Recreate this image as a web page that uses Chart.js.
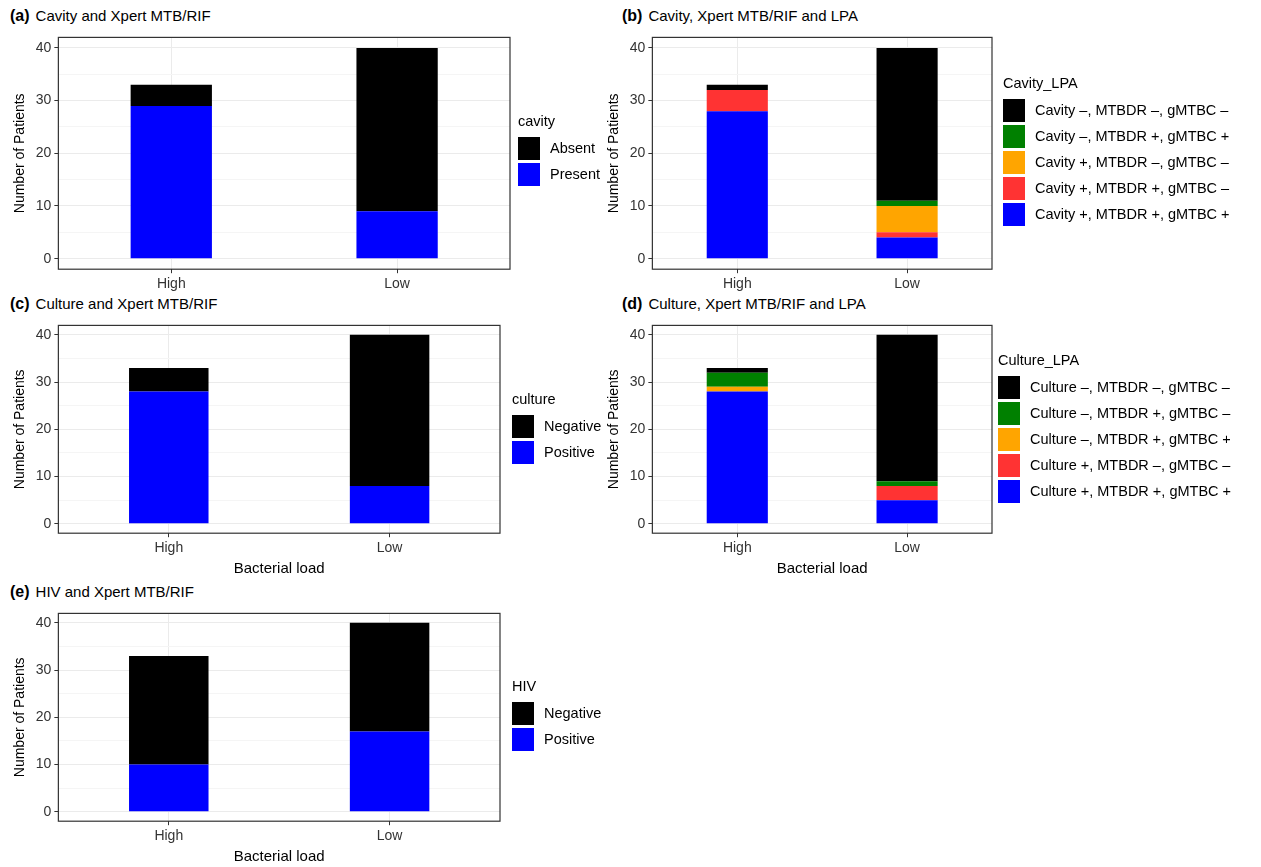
<!DOCTYPE html>
<html><head><meta charset="utf-8">
<script src="https://cdn.jsdelivr.net/npm/chart.js@4"></script>
<style>
body{margin:0;background:#fff;font-family:"Liberation Sans",Arial,sans-serif;}
.box{position:absolute;}
.ttl{position:absolute;font-size:15px;color:#000;}
.ttl b{font-size:16px;margin-right:6px;}
.lg{position:absolute;font-size:14.5px;color:#000;z-index:2;}
.lg .t{margin-bottom:6px;}
.lg .i{display:flex;align-items:center;height:26px;}
.lg .s{width:22px;height:23px;margin-right:10px;}
</style></head><body>
<div class="ttl" style="left:10px;top:7px"><b>(a)</b>Cavity and Xpert MTB/RIF</div>
<div class="ttl" style="left:622px;top:7px"><b>(b)</b>Cavity, Xpert MTB/RIF and LPA</div>
<div class="ttl" style="left:10px;top:295px"><b>(c)</b>Culture and Xpert MTB/RIF</div>
<div class="ttl" style="left:622px;top:295px"><b>(d)</b>Culture, Xpert MTB/RIF and LPA</div>
<div class="ttl" style="left:10px;top:583px"><b>(e)</b>HIV and Xpert MTB/RIF</div>
<div class="box" style="left:0;top:26px;width:640px;height:270px"><canvas id="ca"></canvas></div>
<div class="box" style="left:602px;top:26px;width:659px;height:270px"><canvas id="cb"></canvas></div>
<div class="box" style="left:0;top:314px;width:640px;height:264px"><canvas id="cc"></canvas></div>
<div class="box" style="left:602px;top:314px;width:659px;height:264px"><canvas id="cd"></canvas></div>
<div class="box" style="left:0;top:602px;width:640px;height:264px"><canvas id="ce"></canvas></div>
<div class="lg" id="la" style="left:518px;top:113px"></div>
<div class="lg" id="lb" style="left:1003px;top:75px"></div>
<div class="lg" id="lc" style="left:512px;top:391px"></div>
<div class="lg" id="ld" style="left:998px;top:352px"></div>
<div class="lg" id="le" style="left:512px;top:678px"></div>
<script>
const loads = ['High', 'Low'];
const yTicks = [0, 10, 20, 30, 40];

// (a) cavity
const cavityLabels = ['Present', 'Absent'];
const cavityPresent = [29, 9];
const cavityAbsent = [4, 31];

// (b) cavity + LPA (bottom to top)
const cavityLpaLabels = ['Cavity +, MTBDR +, gMTBC +', 'Cavity +, MTBDR +, gMTBC \u2013', 'Cavity +, MTBDR \u2013, gMTBC \u2013', 'Cavity \u2013, MTBDR +, gMTBC +', 'Cavity \u2013, MTBDR \u2013, gMTBC \u2013'];
const cavityLpaValues = [[28, 4], [4, 1], [0, 5], [0, 1], [1, 29]];

// (c) culture
const cultureLabels = ['Positive', 'Negative'];
const culturePositive = [28, 8];
const cultureNegative = [5, 32];

// (d) culture + LPA (bottom to top)
const cultureLpaLabels = ['Culture +, MTBDR +, gMTBC +', 'Culture +, MTBDR \u2013, gMTBC \u2013', 'Culture \u2013, MTBDR +, gMTBC +', 'Culture \u2013, MTBDR +, gMTBC \u2013', 'Culture \u2013, MTBDR \u2013, gMTBC \u2013'];
const cultureLpaValues = [[28, 5], [0, 3], [1, 0], [3, 1], [1, 31]];

// (e) HIV
const hivLabels = ['Positive', 'Negative'];
const hivPositive = [10, 17];
const hivNegative = [23, 23];

const twoColors = ['#0000ff', '#000000'];
const lpaColors = ['#0000ff', '#ff3333', '#ffa500', '#008000', '#000000'];

const framePlugin = {
    id: 'frame',
    afterDraw(chart) {
        const a = chart.chartArea, c = chart.ctx;
        c.save();
        c.strokeStyle = '#333';
        c.lineWidth = 1.2;
        c.strokeRect(a.left, a.top, a.right - a.left, a.bottom - a.top);
        c.restore();
    }
};

function makeLegend(id, title, labels, colors) {
    let html = '<div class="t">' + title + '</div>';
    for (let i = labels.length - 1; i >= 0; i--) {
        html += '<div class="i"><div class="s" style="background:' + colors[i] + '"></div>' + labels[i] + '</div>';
    }
    document.getElementById(id).innerHTML = html;
}

function makeChart(id, labels, values, colors, xTitle, leftPad, rightPad) {
    new Chart(document.getElementById(id), {
        type: 'bar',
        data: {
            labels: loads,
            datasets: labels.map((l, i) => ({
                label: l,
                data: values[i],
                backgroundColor: colors[i],
                barPercentage: 0.36,
                categoryPercentage: 1
            }))
        },
        options: {
            animation: false,
            maintainAspectRatio: false,
            layout: { padding: { left: leftPad, right: rightPad, top: 10 } },
            plugins: { tooltip: { enabled: false }, legend: { display: false } },
            scales: {
                x: {
                    stacked: true,
                    grid: { offset: false, color: '#ebebeb', tickColor: '#333', tickLength: 4 },
                    border: { display: false },
                    ticks: { color: '#333', font: { size: 14, family: 'Liberation Sans' } },
                    title: { display: !!xTitle, text: xTitle, color: '#000', padding: 0, font: { size: 15, family: 'Liberation Sans' } }
                },
                y: {
                    stacked: true,
                    min: -2, max: 42,
                    afterBuildTicks(s) { s.ticks = [0, 5, 10, 15, 20, 25, 30, 35, 40].map(v => ({ value: v })); },
                    grid: {
                        color: ctx => (ctx.tick && yTicks.includes(ctx.tick.value)) ? '#ebebeb' : '#f5f5f5',
                        tickColor: ctx => (ctx.tick && yTicks.includes(ctx.tick.value)) ? '#333' : 'rgba(0,0,0,0)',
                        tickLength: 4
                    },
                    border: { display: false },
                    ticks: {
                        color: '#333', font: { size: 14, family: 'Liberation Sans' },
                        callback: v => yTicks.includes(v) ? v : ''
                    },
                    title: { display: true, text: 'Number of Patients', color: '#000', font: { size: 14, family: 'Liberation Sans' } }
                }
            }
        },
        plugins: [framePlugin]
    });
}

makeChart('ca', cavityLabels, [cavityPresent, cavityAbsent], twoColors, '', 8, 130);
makeChart('cb', cavityLpaLabels, cavityLpaValues, lpaColors, '', 0, 269);
makeChart('cc', cultureLabels, [culturePositive, cultureNegative], twoColors, 'Bacterial load', 8, 140);
makeChart('cd', cultureLpaLabels, cultureLpaValues, lpaColors, 'Bacterial load', 0, 269);
makeChart('ce', hivLabels, [hivPositive, hivNegative], twoColors, 'Bacterial load', 8, 140);

makeLegend('la', 'cavity', cavityLabels, twoColors);
makeLegend('lb', 'Cavity_LPA', cavityLpaLabels, lpaColors);
makeLegend('lc', 'culture', cultureLabels, twoColors);
makeLegend('ld', 'Culture_LPA', cultureLpaLabels, lpaColors);
makeLegend('le', 'HIV', hivLabels, twoColors);
</script>
</body></html>
